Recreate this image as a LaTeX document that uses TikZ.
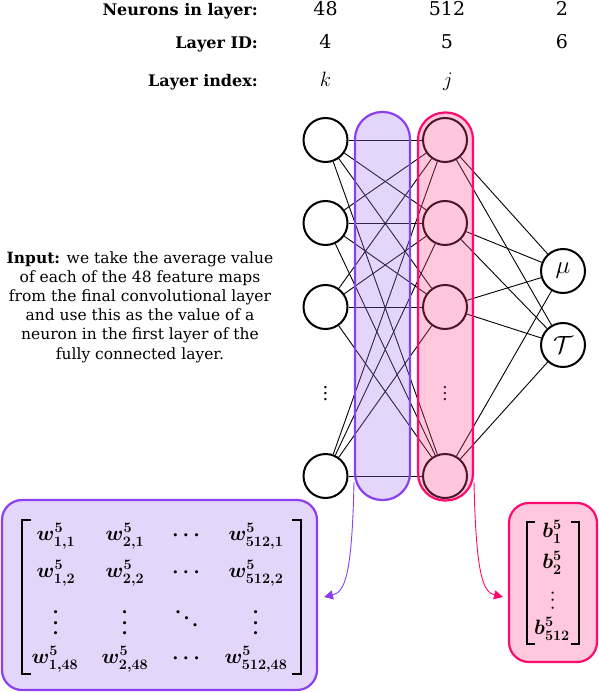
\documentclass[tikz,border=0pt]{standalone}
\usepackage{amsmath,bm,graphicx}
\usepackage[no-math]{fontspec}
\setmainfont{DejaVu Serif}
\usetikzlibrary{arrows.meta}
\definecolor{pstroke}{RGB}{138,63,240}
\definecolor{pfill}{RGB}{228,214,250}
\definecolor{pover}{RGB}{165,118,238}
\definecolor{kstroke}{RGB}{255,10,110}
\definecolor{kfill}{RGB}{255,200,221}
\definecolor{kover}{RGB}{255,72,142}
\newcommand{\myvdots}{\rotatebox{90}{$\cdots$}}
\newcommand{\myddots}{\rotatebox{-36}{$\cdots$}}
\newcommand{\colvdots}{\scalebox{1.5}{\boldmath$\vdots$}}
\begin{document}
\begin{tikzpicture}[x=1pt,y=-1pt,
  neuron/.style={circle,draw,line width=2pt,minimum size=44pt,inner sep=0pt,fill=white,font=\fontsize{24}{26}\selectfont},
  edge/.style={line width=0.9pt},
  hdr/.style={font=\fontsize{16}{19}\selectfont\bfseries,anchor=base east,inner sep=0pt},
  val/.style={font=\fontsize{19}{22}\selectfont,anchor=base,inner sep=0pt},
  idx/.style={font=\fontsize{21}{24}\selectfont,anchor=base,inner sep=0pt},
  band/.style={line width=2.2pt,rounded corners=27pt,minimum width=55pt,minimum height=388pt,fill opacity=0.3,inner sep=0pt},
  mbox/.style={line width=2.2pt,rounded corners=20pt,inner sep=0pt},
  ent/.style={font=\fontsize{20}{24}\selectfont\boldmath,anchor=base,inner sep=0pt},
  entc/.style={font=\fontsize{20}{24}\selectfont\boldmath,anchor=center,inner sep=0pt},
  brk/.style={line width=2.4pt},
  conn/.style={line width=0.9pt,-{Triangle[length=9pt,width=9pt]}}
]
\useasboundingbox (0,0) rectangle (598,692);

% header
\node[hdr] (h1) at (258,16) {Neurons in layer:};
\node[hdr] (h2) at (258,49) {Layer ID:};
\node[hdr] (h3) at (258,87) {Layer index:};
\node[val] (n1) at (325.5,16) {48};
\node[val] (n2) at (447,16) {512};
\node[val] (n3) at (562,16) {2};
\node[val] (i1) at (325.5,49) {4};
\node[val] (i2) at (447,49) {5};
\node[val] (i3) at (562,49) {6};
\node[idx] (x1) at (325.5,87) {$k$};
\node[idx] (x2) at (448,87) {$j$};

% input text
\node[font=\fontsize{15.5}{19.2}\selectfont,align=center,inner sep=0pt] (inp) at (140,307)
 {\textbf{Input:} we take the average value\\of each of the 48 feature maps\\from the final convolutional layer\\and use this as the value of a\\neuron in the first layer of the\\fully connected layer.};

% neurons
\foreach \i/\y in {1/140,2/223,3/307,4/476}{
  \node[neuron] (k\i) at (325.5,\y) {};
  \node[neuron] (j\i) at (445,\y) {};
}
\node[anchor=center,inner sep=0pt,font=\fontsize{12}{14}\selectfont] (kd) at (325.5,389) {\colvdots};
\node[anchor=center,inner sep=0pt,font=\fontsize{12}{14}\selectfont] (jd) at (445,389) {\colvdots};
\node[neuron] (mu) at (563,271) {$\mu$};
\node[neuron] (tt) at (563,345) {$\mathcal{T}$};

% edges
\foreach \i in {1,...,4}{
  \foreach \m in {1,...,4}{
    \draw[edge] (k\i) -- (j\m);
  }
  \draw[edge] (j\i) -- (mu);
  \draw[edge] (j\i) -- (tt);
}

% boxes at bottom
\node[mbox,draw=pstroke,fill=pfill,minimum width=315pt,minimum height=190pt] (wbox) at (159.5,595) {};
\node[mbox,draw=kstroke,fill=kfill,minimum width=88pt,minimum height=159pt] (bbox) at (553,582.5) {};

% connectors
\coordinate (pa) at (354,482);
\coordinate (pe) at (324,597);
\coordinate (ka) at (474,482);
\coordinate (ke) at (503,597);
\draw[conn,pstroke] (pa) .. controls (352,575) and (345,592) .. (pe);
\draw[conn,kstroke] (ka) .. controls (476,575) and (483,592) .. (ke);

% bands (overlay)
\node[band,draw=pstroke,fill=pover] (pband) at (382.5,306) {};
\node[band,draw=kstroke,fill=kover] (kband) at (445.5,306.5) {};

% weight matrix
\draw[brk] (31,520) -- (22,520) -- (22,674) -- (31,674);
\draw[brk] (292,520) -- (301,520) -- (301,674) -- (292,674);
\node[ent] (w11) at (56,540) {$w^{5}_{1,1}$};
\node[ent] (w21) at (125,540) {$w^{5}_{2,1}$};
\node[ent] (c1) at (188,540) {$\cdots$};
\node[ent] (wn1) at (256,540) {$w^{5}_{512,1}$};
\node[ent] (w12) at (56,577) {$w^{5}_{1,2}$};
\node[ent] (w22) at (125,577) {$w^{5}_{2,2}$};
\node[ent] (c2) at (188,577) {$\cdots$};
\node[ent] (wn2) at (256,577) {$w^{5}_{512,2}$};
\node[entc] (v1) at (56,621) {\myvdots};
\node[entc] (v2) at (125,621) {\myvdots};
\node[entc] (dd) at (188,620) {\myddots};
\node[entc] (v4) at (256,621) {\myvdots};
\node[ent] (w148) at (55,663) {$w^{5}_{1,48}$};
\node[ent] (w248) at (125,663) {$w^{5}_{2,48}$};
\node[ent] (c4) at (188,663) {$\cdots$};
\node[ent] (wn48) at (256,663) {$w^{5}_{512,48}$};

% bias vector
\draw[brk] (535,522) -- (527,522) -- (527,644) -- (535,644);
\draw[brk] (571,522) -- (579,522) -- (579,644) -- (571,644);
\node[ent] (b1) at (552,537) {$b^{5}_{1}$};
\node[ent] (b2) at (552,568) {$b^{5}_{2}$};
\node[entc,font=\fontsize{15}{18}\selectfont\boldmath] (bv) at (553,599) {\myvdots};
\node[ent] (bn) at (552,634) {$b^{5}_{512}$};
\end{tikzpicture}
\end{document}
